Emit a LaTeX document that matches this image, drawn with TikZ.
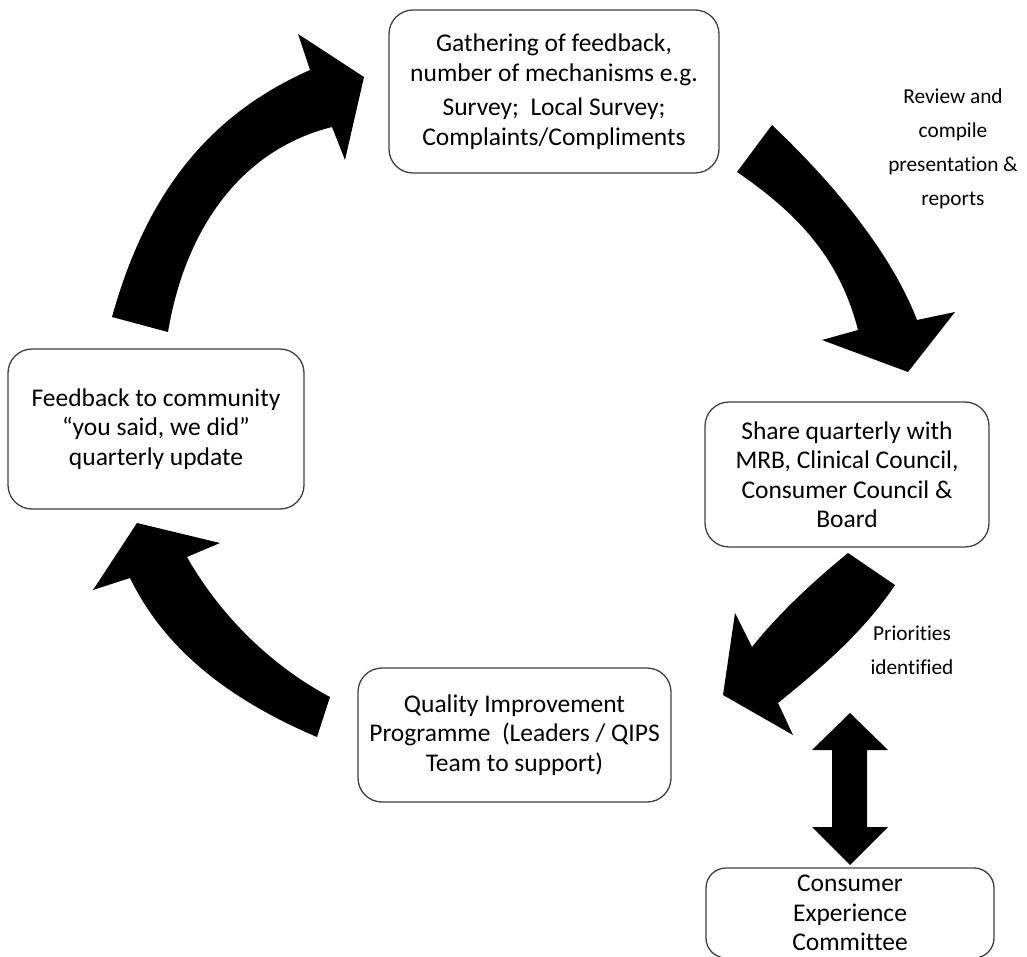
\documentclass[tikz,border=0pt]{standalone}
\usepackage{fontspec}
\setmainfont{Carlito}[Ligatures=NoCommon]
\begin{document}
\begin{tikzpicture}[x=1pt,y=-1pt,
  box/.style={draw=black!75, line width=1.3pt, rounded corners=24pt, align=center,
     inner sep=0pt, font=\fontsize{25.5}{29.5}\selectfont},
  lbl/.style={align=center, inner sep=0pt, font=\fontsize{21.3}{34}\selectfont},
  blk/.style={fill=black, draw=none}]
\useasboundingbox (0,0) rectangle (1027,957);
\begin{scope}
\clip (0,0) rectangle (1027,957);
\node[box, minimum width=330pt, minimum height=163pt] (gather) at (554,91.5)
  {Gathering of feedback,\\ number of mechanisms e.g.\\[5pt] Survey;~ Local Survey;\\ Complaints/Compliments};
\node[box, minimum width=296pt, minimum height=160pt] (feedback) at (156,429)
  {Feedback to community\\ “you said, we did”\\ quarterly update};
\node[box, minimum width=284pt, minimum height=145pt] (share) at (847,474.5)
  {Share quarterly with\\ MRB, Clinical Council,\\ Consumer Council \&\\ Board};
\node[box, minimum width=313pt, minimum height=134pt] (qip) at (514.5,735)
  {Quality Improvement\\ Programme~ (Leaders / QIPS\\ Team to support)};
\node[box, minimum width=288pt, minimum height=90pt, rounded corners=20pt] (cec) at (850,913)
  {Consumer\\ Experience\\ Committee};
\end{scope}
\node[lbl] (review) at (953,149) {Review and\\ compile\\ presentation \&\\ reports};
\node[lbl] (prio) at (912,650.5) {Priorities\\ identified};
% arrow: feedback -> gather
\fill[blk] (112,317) .. controls (150,180) and (220,110) .. (310,70) -- (298,34) -- (364,77)
  -- (345,160) -- (332,127) .. controls (240,150) and (185,230) .. (168,332) -- cycle;
% arrow: gather -> share
\fill[blk] (772,125) .. controls (830,180) and (890,250) .. (917,320) -- (955,312) -- (908,372)
  -- (822,340) -- (858,330) .. controls (840,260) and (800,215) .. (737,172) -- cycle;
% arrow: share -> qip
\fill[blk] (848,553) .. controls (815,580) and (780,612) .. (752,647) -- (735,613) -- (723,695)
  -- (793,735) -- (778,703) .. controls (825,665) and (865,630) .. (895,585) -- cycle;
% arrow: qip -> feedback
\fill[blk] (137,523) -- (220,543) -- (187,557) .. controls (220,615) and (270,665) .. (330,697)
  -- (317,737) .. controls (230,700) and (165,650) .. (130,578) -- (93,590) -- cycle;
% double arrow
\fill[blk] (850,713) -- (888,750) -- (867,750) -- (867,827) -- (888,827) -- (850,865)
  -- (812,827) -- (832,827) -- (832,750) -- (812,750) -- cycle;
\end{tikzpicture}
\end{document}
